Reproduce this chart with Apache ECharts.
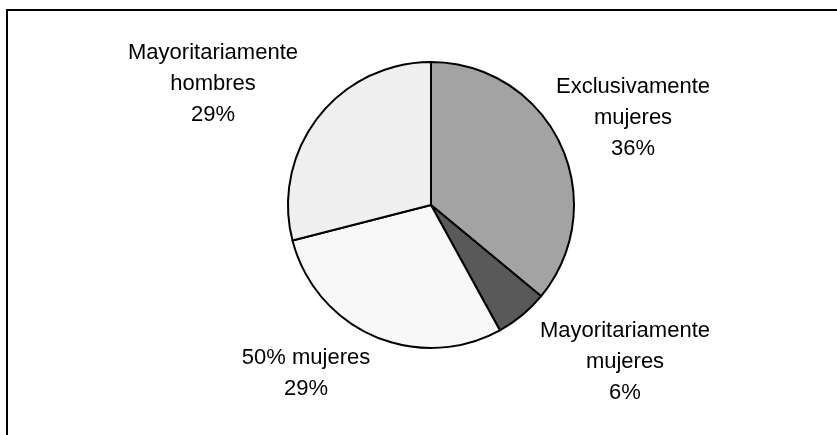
<!DOCTYPE html>
<html>
<head>
<meta charset="utf-8">
<script src="https://cdn.jsdelivr.net/npm/echarts@6/dist/echarts.min.js"></script>
<style>
html,body{margin:0;padding:0;background:#fff;}
#chart{width:837px;height:435px;}
</style>
</head>
<body>
<div id="chart"></div>
<script>
// Data
var categories = ['Exclusivamente\nmujeres', 'Mayoritariamente\nmujeres', '50% mujeres', 'Mayoritariamente\nhombres'];
var values = [36, 6, 29, 29];

// Styling / layout (not data)
var colors = ['#a3a3a3', '#595959', '#f8f8f8', '#efefef'];
var labelSpots = [[633, 118], [625, 362], [306, 373], [213, 84]];

var chart = echarts.init(document.getElementById('chart'), null, {renderer: 'canvas'});
var data = categories.map(function (c, i) {
  return {name: c, value: values[i], itemStyle: {color: colors[i]}};
});
chart.setOption({
  animation: false,
  backgroundColor: '#ffffff',
  graphic: [{
    type: 'polyline',
    shape: {points: [[7, 440], [7, 10], [845, 10]]},
    style: {stroke: '#000', lineWidth: 2, fill: null}
  }],
  series: [{
    type: 'pie',
    center: [431, 205],
    radius: 143,
    startAngle: 90,
    clockwise: true,
    data: data,
    itemStyle: {borderColor: '#000', borderWidth: 2},
    emphasis: {disabled: true},
    label: {
      show: true,
      position: 'outside',
      formatter: function (p) { return p.name + '\n' + Math.round(p.percent) + '%'; },
      fontFamily: '"Liberation Sans", Arial, sans-serif',
      fontSize: 22,
      lineHeight: 31,
      color: '#000',
      align: 'center'
    },
    labelLine: {show: false},
    labelLayout: function (params) {
      var s = labelSpots[params.dataIndex];
      return {x: s[0], y: s[1], align: 'center', verticalAlign: 'middle', hideOverlap: false, moveOverlap: null};
    }
  }]
});
</script>
</body>
</html>
